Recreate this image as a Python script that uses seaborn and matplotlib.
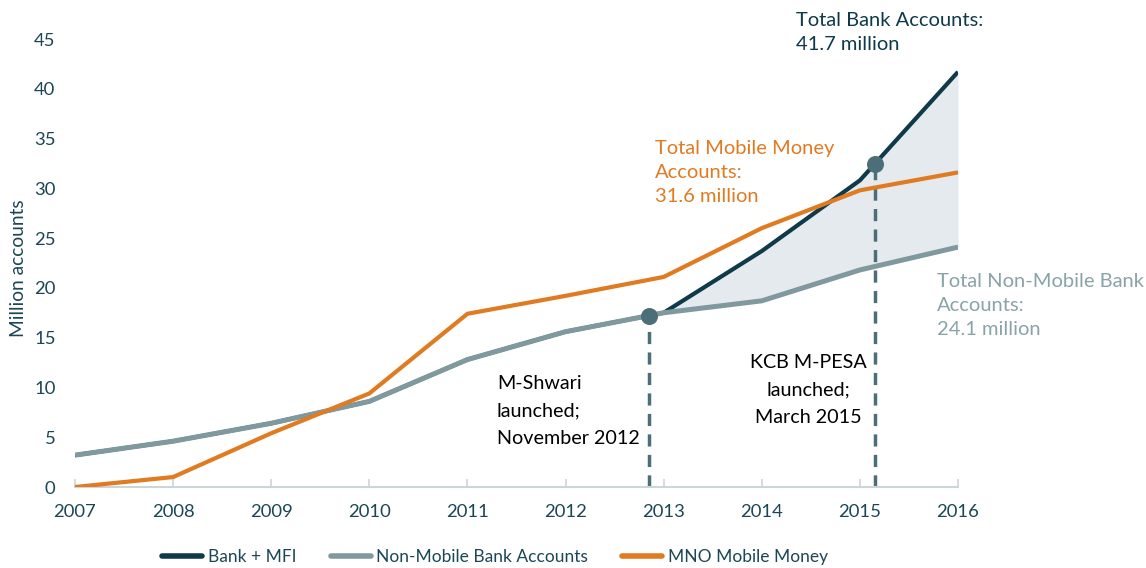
import numpy as np
import pandas as pd
import matplotlib
matplotlib.use("Agg")
import matplotlib.pyplot as plt
import seaborn as sns
from matplotlib.lines import Line2D

# ---- data ----
years = [2007, 2008, 2009, 2010, 2011, 2012, 2013, 2014, 2015, 2016]
bank_mfi = [3.2, 4.6, 6.4, 8.6, 12.8, 15.6, 17.5, 23.7, 30.8, 41.7]
non_mobile = [3.2, 4.6, 6.4, 8.6, 12.8, 15.6, 17.5, 18.7, 21.8, 24.1]
mno_mobile = [0.0, 1.0, 5.4, 9.4, 17.4, 19.2, 21.1, 26.0, 29.8, 31.6]
series_names = ["Bank + MFI", "Non-Mobile Bank Accounts", "MNO Mobile Money"]
event_x = [2012.85, 2015.15]
event_labels = ["M-Shwari\nlaunched;\nNovember 2012", "KCB M-PESA\nlaunched;\nMarch 2015"]
y_ticks = [0, 5, 10, 15, 20, 25, 30, 35, 40, 45]

C_BANK = "#0f3a4a"
C_NONMOB = "#7f999f"
C_MNO = "#e07b22"
C_TEXT = "#1b4656"
C_DOT = "#4b6e79"
C_FILL = "#e4eaed"

sns.set_theme(style="white")
plt.rcParams["font.family"] = ["Lato", "DejaVu Sans"]

df = pd.DataFrame({"year": years, series_names[0]: bank_mfi,
                   series_names[1]: non_mobile, series_names[2]: mno_mobile})
long = df.melt(id_vars="year", var_name="series", value_name="value")

fig = plt.figure(figsize=(11.46, 5.68), dpi=100)
ax = fig.add_axes([75 / 1146, 1 - 487 / 568, 883 / 1146, 448 / 568])

yrs = np.array(years, dtype=float)
bk = np.array(bank_mfi)
nm = np.array(non_mobile)
mask = yrs >= 2013
ax.fill_between(yrs[mask], nm[mask], bk[mask], color=C_FILL, lw=0, zorder=1)

palette = {series_names[0]: C_BANK, series_names[1]: C_NONMOB, series_names[2]: C_MNO}
widths = {series_names[0]: 3.0, series_names[1]: 3.6, series_names[2]: 3.0}
for name in series_names:
    sub = long[long["series"] == name]
    sns.lineplot(data=sub, x="year", y="value", ax=ax, color=palette[name],
                 lw=widths[name], legend=False, zorder=3,
                 solid_capstyle="butt", solid_joinstyle="miter")

# event markers
ev_y = np.interp(event_x, yrs, bk)
ax.vlines(event_x, 0, ev_y, colors=C_DOT, linestyles=(0, (3.5, 2.4)), lw=2.5, zorder=2)
ax.scatter(event_x, ev_y, s=150, color=C_DOT, zorder=5, linewidths=0)

ax.text(2011.30, 7.63, event_labels[0], ha="left", va="center", fontsize=14.2,
        color="black", linespacing=1.75)
ax.text(2014.47, 9.74, event_labels[1], ha="center", va="center", fontsize=14.2,
        color="black", linespacing=1.75, multialignment="center")

ax.text(2014.35, 45.7, "Total Bank Accounts:\n41.7 million", ha="left", va="center",
        fontsize=14.5, color=C_BANK, linespacing=1.5, clip_on=False)
ax.text(2012.91, 31.6, "Total Mobile Money\nAccounts:\n31.6 million", ha="left",
        va="center", fontsize=14.5, color=C_MNO, linespacing=1.5)
ax.text(2015.79, 18.2, "Total Non-Mobile Bank\nAccounts:\n24.1 million", ha="left",
        va="center", fontsize=14.5, color="#8aa3a8", linespacing=1.5, clip_on=False)

ax.set_xlim(2007, 2016)
ax.set_ylim(0, 45)
ax.set_xticks(years)
ax.set_xticklabels([str(y) for y in years])
ax.set_yticks(y_ticks)
ax.set_yticklabels([str(v) for v in y_ticks])
ax.set_xlabel("")
ax.set_ylabel("")
for s in ["top", "right", "left"]:
    ax.spines[s].set_visible(False)
ax.spines["bottom"].set_color("#cdd5d9")
ax.spines["bottom"].set_linewidth(1.5)
ax.tick_params(axis="x", direction="in", length=6, width=1.2, color="#cdd5d9",
               labelsize=13.3, labelcolor=C_TEXT, pad=12, bottom=True)
ax.tick_params(axis="y", length=0, labelsize=13.3, labelcolor=C_TEXT, pad=14)
ax.set_facecolor("white")

fig.text(0.016, 0.528, "Million accounts", rotation=90, ha="center", va="center",
         fontsize=13.8, color=C_TEXT)

handles = [Line2D([], [], color=palette[n], lw=4, solid_capstyle="round") for n in series_names]
leg = fig.legend(handles, series_names, loc="center", bbox_to_anchor=(0.432, 0.02),
                 ncol=3, frameon=False, fontsize=12.5, handlelength=2.3,
                 handletextpad=0.3, columnspacing=2.0)
for t in leg.get_texts():
    t.set_color(C_TEXT)

fig.savefig("out.png", dpi=100)
